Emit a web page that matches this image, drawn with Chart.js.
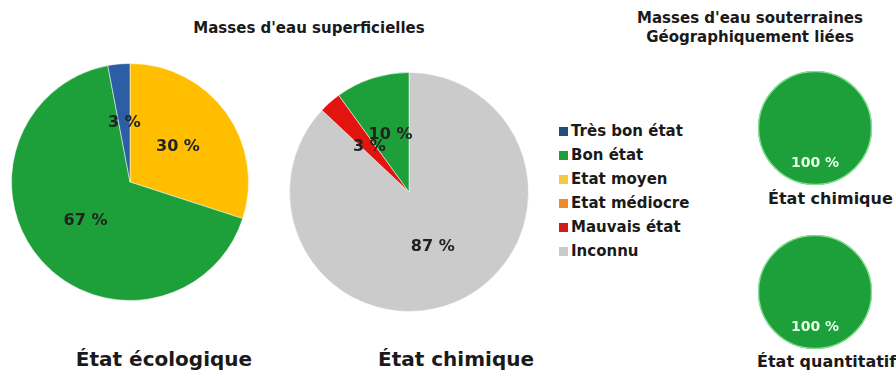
<!DOCTYPE html>
<html>
<head>
<meta charset="utf-8">
<script src="https://cdn.jsdelivr.net/npm/chart.js@4.4.1/dist/chart.umd.min.js"></script>
<style>
  html, body { margin: 0; padding: 0; background: #fff; }
  #wrap { position: relative; width: 896px; height: 376px; overflow: hidden; font-family: "DejaVu Sans", sans-serif; font-weight: bold; color: #1a1a1a; }
  canvas { position: absolute; }
  .txt { position: absolute; white-space: nowrap; }
  .mid { transform: translateX(-50%); text-align: center; }
  .head { font-size: 15px; line-height: 19px; }
  .big { font-size: 20px; line-height: 24px; }
  .small { font-size: 16px; line-height: 18px; }
  #legend { position: absolute; left: 559px; top: 121px; font-size: 15px; }
  #legend div { height: 24px; line-height: 20px; }
  #legend span { display: inline-block; width: 9px; height: 9px; margin-right: 3px; vertical-align: 0px; }
</style>
</head>
<body>
<div id="wrap">
  <div class="txt mid head" style="left:309px; top:19px;">Masses d'eau superficielles</div>
  <div class="txt mid head" style="left:750px; top:9px;">Masses d'eau souterraines<br>Géographiquement liées</div>

  <canvas id="ecoSup" width="238" height="240" style="left:11px; top:62px;"></canvas>
  <canvas id="chimSup" width="240" height="240" style="left:289px; top:72px;"></canvas>
  <canvas id="chimSout" width="114" height="114" style="left:758px; top:71px;"></canvas>
  <canvas id="quantSout" width="114" height="114" style="left:758px; top:235px;"></canvas>

  <div id="legend"></div>

  <div class="txt mid big" style="left:164px; top:347px;">État écologique</div>
  <div class="txt mid big" style="left:456px; top:347px;">État chimique</div>
  <div class="txt small" style="left:768px; top:190px;">État chimique</div>
  <div class="txt small" style="left:757px; top:353px;">État quantitatif</div>
</div>

<script>
// categories and colours shared by every pie
const categories = ['Très bon état', 'Bon état', 'Etat moyen', 'Etat médiocre', 'Mauvais état', 'Inconnu'];
const colors = ['#2c5ea5', '#1d9f3a', '#ffbf00', '#ef8a25', '#e3140f', '#cbcbcb'];
const legendColors = ['#1f4e7d', '#1d9f3a', '#f5c843', '#ec8a2c', '#d21a1a', '#c9c9c9'];

// percentages per pie, in category order
const ecoSupValues = [3, 67, 30, 0, 0, 0];
const chimSupValues = [0, 10, 0, 0, 3, 87];
const chimSoutValues = [0, 100, 0, 0, 0, 0];
const quantSoutValues = [0, 100, 0, 0, 0, 0];

// legend
const legend = document.getElementById('legend');
categories.forEach((c, i) => {
    const row = document.createElement('div');
    row.innerHTML = '<span style="background:' + legendColors[i] + '"></span>' + c;
    legend.appendChild(row);
});

// draws "xx %" on each non-empty slice, plus an optional outline ring
const sliceLabels = {
    id: 'sliceLabels',
    afterDatasetsDraw(chart, args, opts) {
        const ctx = chart.ctx;
        const meta = chart.getDatasetMeta(0);
        const data = chart.data.datasets[0].data;
        ctx.save();
        if (opts.ring && meta.data.length) {
            const a = meta.data[0].getProps(['x', 'y', 'outerRadius'], true);
            ctx.strokeStyle = opts.ring;
            ctx.lineWidth = 1.5;
            ctx.beginPath();
            ctx.arc(a.x, a.y, a.outerRadius - 0.5, 0, Math.PI * 2);
            ctx.stroke();
        }
        ctx.font = opts.font;
        ctx.fillStyle = opts.color;
        ctx.textAlign = 'center';
        ctx.textBaseline = 'middle';
        meta.data.forEach((arc, i) => {
            if (!data[i]) return;
            const p = arc.getProps(['x', 'y', 'startAngle', 'endAngle', 'outerRadius'], true);
            const mid = (p.startAngle + p.endAngle) / 2;
            const r = p.outerRadius * opts.offset;
            ctx.fillText(data[i] + ' %', p.x + Math.cos(mid) * r, p.y + Math.sin(mid) * r);
        });
        ctx.restore();
    }
};

// slices run anticlockwise from the top, so feed them in reverse
function makePie(id, values, labelOpts, borderWidth) {
    new Chart(document.getElementById(id), {
        type: 'pie',
        data: {
            labels: categories.slice().reverse(),
            datasets: [{
                data: values.slice().reverse(),
                backgroundColor: colors.slice().reverse(),
                borderColor: 'rgba(255,255,255,0.5)',
                borderWidth: borderWidth
            }]
        },
        options: {
            responsive: false,
            animation: false,
            layout: { padding: 0 },
            plugins: {
                legend: { display: false },
                tooltip: { enabled: false },
                sliceLabels: labelOpts
            }
        },
        plugins: [sliceLabels]
    });
}

const darkLabel = { font: 'bold 16px "DejaVu Sans", sans-serif', color: '#222', offset: 0.5 };
const whiteLabel = { font: 'bold 14px "DejaVu Sans", sans-serif', color: '#e6ffe8', offset: 0.62, ring: '#86de93' };

makePie('ecoSup', ecoSupValues, darkLabel, 1);
makePie('chimSup', chimSupValues, darkLabel, 1);
makePie('chimSout', chimSoutValues, whiteLabel, 0);
makePie('quantSout', quantSoutValues, whiteLabel, 0);
</script>
</body>
</html>
